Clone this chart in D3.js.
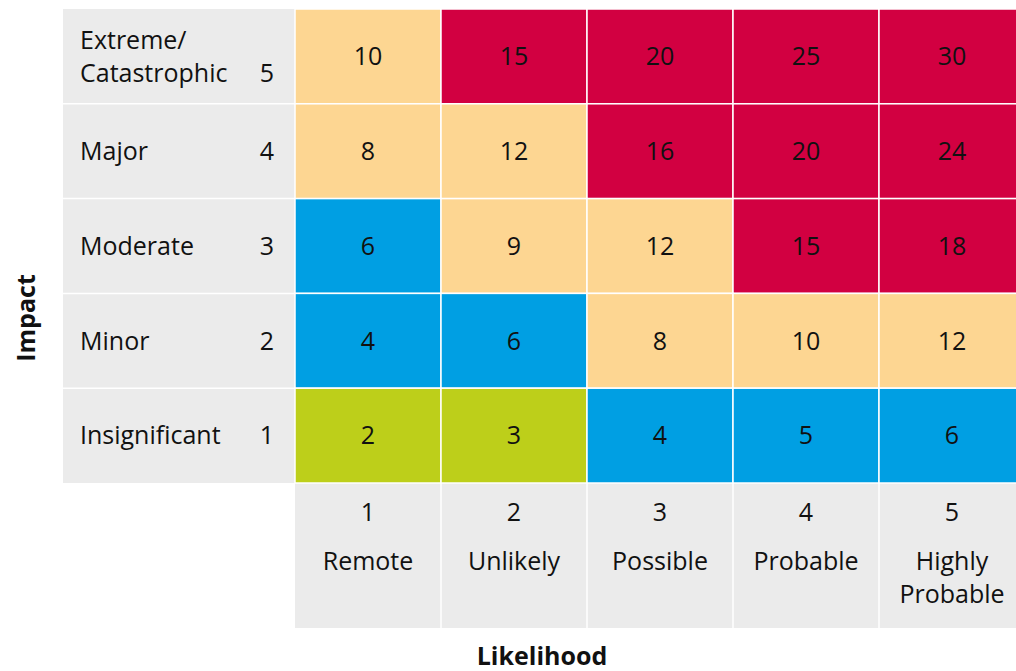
<!DOCTYPE html>
<html>
<head>
<meta charset="utf-8">
<script src="https://cdn.jsdelivr.net/npm/d3@7"></script>
<style>
  html, body { margin: 0; padding: 0; background: #ffffff; }
  svg { display: block; }
  text { font-family: "Open Sans", "Noto Sans", sans-serif; fill: #111111; }
</style>
</head>
<body>
<svg id="chart" width="1016" height="671"></svg>
<script>
// ---- data ----
const impactLevels = [5, 4, 3, 2, 1];
const impactLabels = [["Extreme/", "Catastrophic"], ["Major"], ["Moderate"], ["Minor"], ["Insignificant"]];
const likelihoodLevels = [1, 2, 3, 4, 5];
const likelihoodLabels = [["Remote"], ["Unlikely"], ["Possible"], ["Probable"], ["Highly", "Probable"]];
// scores per impact row (top to bottom), per likelihood column
const scores5 = [10, 15, 20, 25, 30];
const scores4 = [8, 12, 16, 20, 24];
const scores3 = [6, 9, 12, 15, 18];
const scores2 = [4, 6, 8, 10, 12];
const scores1 = [2, 3, 4, 5, 6];
// risk class per cell
const class5 = ["medium", "high", "high", "high", "high"];
const class4 = ["medium", "medium", "high", "high", "high"];
const class3 = ["low", "medium", "medium", "high", "high"];
const class2 = ["low", "low", "medium", "medium", "medium"];
const class1 = ["minimal", "minimal", "low", "low", "low"];
const riskClasses = ["minimal", "low", "medium", "high"];
const riskColors = ["#bdcf1a", "#009fe3", "#fdd692", "#d20041"];

const scoreRows = [scores5, scores4, scores3, scores2, scores1];
const classRows = [class5, class4, class3, class2, class1];
const cells = [];
impactLevels.forEach((imp, r) => {
  likelihoodLevels.forEach((lik, c) => {
    cells.push({ impact: imp, likelihood: lik, score: scoreRows[r][c], cls: classRows[r][c] });
  });
});

// ---- layout ----
const svg = d3.select("#chart");
const gridLeft = 295, gridRight = 1025, gridTop = 9, gridBottom = 483;
const labelLeft = 63, bottomEnd = 628;
const fs = 25, lineGap = 33;

const x = d3.scaleBand().domain(likelihoodLevels).range([gridLeft, gridRight]).padding(0);
const y = d3.scaleBand().domain(impactLevels).range([gridTop, gridBottom]).padding(0);
const color = d3.scaleOrdinal().domain(riskClasses).range(riskColors);
const gray = "#ebebeb";
const line = "#ffffff";

// row label panel
svg.append("g").selectAll("rect").data(impactLevels).join("rect")
  .attr("x", labelLeft).attr("y", d => y(d))
  .attr("width", gridLeft - labelLeft).attr("height", y.bandwidth())
  .attr("fill", gray);
svg.append("g").selectAll("line").data(impactLevels.slice(1)).join("line")
  .attr("x1", labelLeft).attr("x2", gridLeft)
  .attr("y1", d => y(d)).attr("y2", d => y(d))
  .attr("stroke", line).attr("stroke-width", 1.5);

// bottom label panel
svg.append("g").selectAll("rect").data(likelihoodLevels).join("rect")
  .attr("x", d => x(d)).attr("y", gridBottom)
  .attr("width", x.bandwidth()).attr("height", bottomEnd - gridBottom)
  .attr("fill", gray);
svg.append("g").selectAll("line").data(likelihoodLevels.slice(1)).join("line")
  .attr("x1", d => x(d)).attr("x2", d => x(d))
  .attr("y1", gridBottom).attr("y2", bottomEnd)
  .attr("stroke", line).attr("stroke-width", 1.5);

// cells
svg.append("g").selectAll("rect").data(cells).join("rect")
  .attr("x", d => x(d.likelihood)).attr("y", d => y(d.impact))
  .attr("width", x.bandwidth()).attr("height", y.bandwidth())
  .attr("fill", d => color(d.cls))
  .attr("stroke", line).attr("stroke-width", 1.5);

svg.append("g").selectAll("text").data(cells).join("text")
  .attr("x", d => x(d.likelihood) + x.bandwidth() / 2)
  .attr("y", d => y(d.impact) + y.bandwidth() / 2)
  .attr("text-anchor", "middle").attr("dy", "0.35em")
  .attr("font-size", fs)
  .text(d => d.score);

// row labels
const rowG = svg.append("g").selectAll("g").data(impactLevels).join("g")
  .attr("transform", d => `translate(0,${y(d) + y.bandwidth() / 2})`);
rowG.append("text")
  .attr("x", 80).attr("font-size", fs)
  .each(function(d, i) {
    const lines = impactLabels[i];
    const t = d3.select(this);
    lines.forEach((s, j) => {
      t.append("tspan").attr("x", 80)
        .attr("y", (j - (lines.length - 1) / 2) * lineGap)
        .attr("dy", "0.35em").text(s);
    });
  });
rowG.append("text")
  .attr("x", 267).attr("text-anchor", "middle").attr("font-size", fs)
  .attr("y", (d, i) => (impactLabels[i].length - 1) / 2 * lineGap)
  .attr("dy", "0.35em")
  .text(d => d);

// column labels
const colG = svg.append("g").selectAll("g").data(likelihoodLevels).join("g")
  .attr("transform", d => `translate(${x(d) + x.bandwidth() / 2},0)`);
colG.append("text")
  .attr("text-anchor", "middle").attr("font-size", fs)
  .attr("y", 521).text(d => d);
colG.append("text")
  .attr("text-anchor", "middle").attr("font-size", fs)
  .each(function(d, i) {
    const t = d3.select(this);
    likelihoodLabels[i].forEach((s, j) => {
      t.append("tspan").attr("x", 0).attr("y", 570 + j * lineGap).text(s);
    });
  });

// axis titles
svg.append("text")
  .attr("x", 542).attr("y", 665).attr("text-anchor", "middle")
  .attr("font-size", fs).attr("font-weight", "bold")
  .text("Likelihood");
svg.append("text")
  .attr("transform", "translate(35,318) rotate(-90)")
  .attr("text-anchor", "middle")
  .attr("font-size", fs).attr("font-weight", "bold")
  .text("Impact");
</script>
</body>
</html>
